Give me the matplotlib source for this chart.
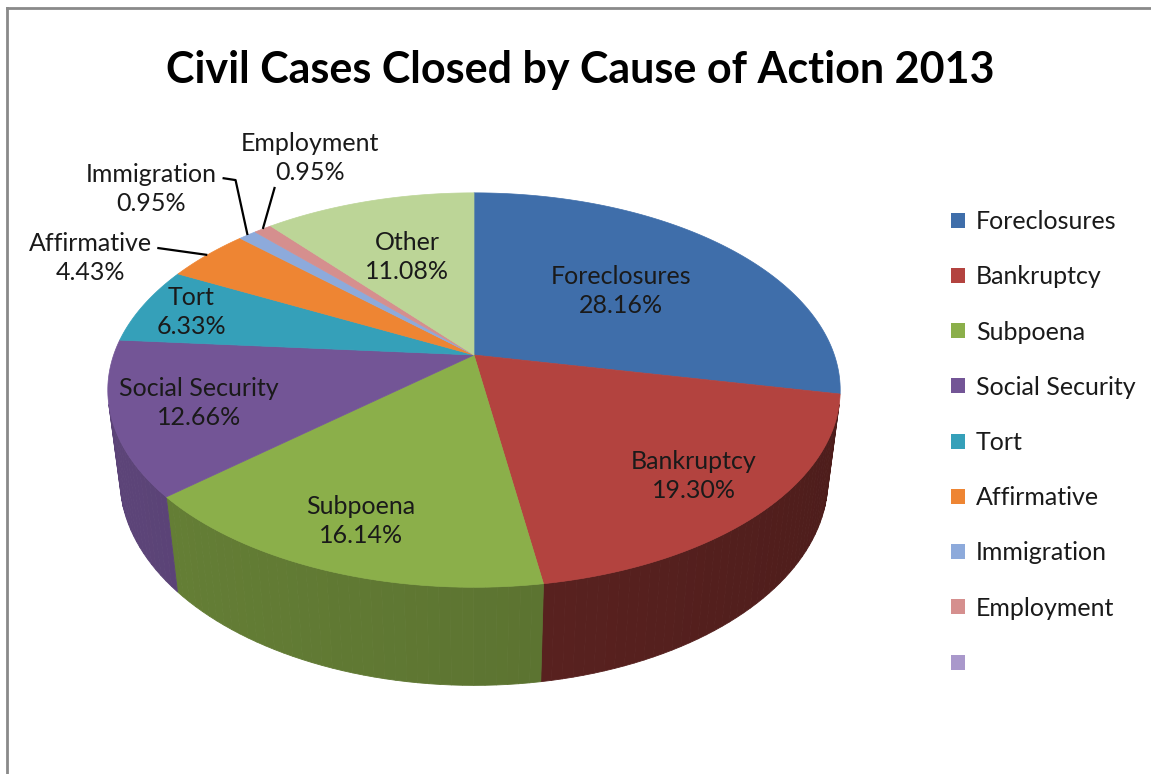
import numpy as np
import matplotlib.pyplot as plt
from matplotlib.patches import Polygon, Patch

plt.rcParams['font.family'] = ['Lato', 'DejaVu Sans']

### Data ###
categories = ['Foreclosures', 'Bankruptcy', 'Subpoena', 'Social Security', 'Tort',
              'Affirmative', 'Immigration', 'Employment', 'Other']
shares = [28.16, 19.30, 16.14, 12.66, 6.33, 4.43, 0.95, 0.95, 11.08]
legend_labels = ['Foreclosures', 'Bankruptcy', 'Subpoena', 'Social Security', 'Tort',
                 'Affirmative', 'Immigration', 'Employment', '']
title = 'Civil Cases Closed by Cause of Action 2013'

### Styles / layout ###
colors = ['#3F6EAA', '#B3433F', '#8BAF4A', '#735596', '#35A0B9',
          '#EE8533', '#8DAADB', '#D58F8E', '#BCD597']
legend_colors = colors[:8] + ['#A998CB']

# perspective setup of the pie (pixel space)
CX, CY = 474, 355
FOCAL = 1719
DIST = 4.77
ELEV = np.radians(32)
DEPTH = 0.30
LIGHT = np.radians(-170)

# radius (fraction of pie radius) used for the inside labels
label_r = {'Foreclosures': 0.56, 'Bankruptcy': 0.79, 'Subpoena': 0.8,
           'Social Security': 0.77, 'Tort': 0.85, 'Other': 0.6}
# outside labels: label offset and leader elbow offsets from the rim point (pixels)
outside = {
  'Affirmative': ((-117, 3), [(-50, -7)]),
  'Immigration': ((-96, -46), [(-12, -55), (-25, -57)]),
  'Employment': ((47, -71), [(12, -42)]),
}

FS_LABEL = 18


def project(theta, r=1.0, z=0.0):
  """theta in radians (math convention), returns pixel coords."""
  x = r * np.cos(theta)
  y = r * np.sin(theta)
  yc = y * np.sin(ELEV) + z * np.cos(ELEV)
  dep = DIST + y * np.cos(ELEV) - z * np.sin(ELEV)
  return CX + FOCAL * x / dep, CY - FOCAL * yc / dep


def shade(rgb, phi, phi_mid):
  # lighting from the left: per-slice base tone plus a soft gradient
  f = 0.58 + 0.23 * np.cos(phi_mid - LIGHT) + 0.07 * (np.cos(phi - LIGHT) - np.cos(phi_mid - LIGHT))
  return tuple(np.clip(np.array(rgb) * f, 0, 1))


fig = plt.figure(figsize=(11.51, 7.74), dpi=100)
ax = fig.add_axes([0, 0, 1, 1])
ax.set_xlim(0, 1151)
ax.set_ylim(774, 0)
ax.axis('off')

cum = np.cumsum(shares)
starts = 90 - 3.6 * (cum - np.array(shares))
ends = 90 - 3.6 * cum

# visible part of the side wall
sil = np.degrees(np.arcsin(1 / (DIST * np.cos(ELEV))))
vis_lo, vis_hi = -180 + sil, -sil

# side walls
for name, s, e, col in zip(categories, starts, ends, colors):
  lo, hi = max(e, vis_lo), min(s, vis_hi)
  if lo >= hi:
    continue
  rgb = plt.matplotlib.colors.to_rgb(col)
  mid = np.radians((lo + hi) / 2)
  th = np.radians(np.linspace(hi, lo, max(int((hi - lo) / 1.5), 2) + 1))
  for t0, t1 in zip(th[:-1], th[1:]):
    pts = [project(t0), project(t1), project(t1, z=-DEPTH), project(t0, z=-DEPTH)]
    c = shade(rgb, (t0 + t1) / 2, mid)
    ax.add_patch(Polygon(pts, closed=True, facecolor=c, edgecolor=c, lw=0.6))

# top faces
for name, s, e, col in zip(categories, starts, ends, colors):
  th = np.radians(np.linspace(s, e, max(int((s - e) / 1.0), 2) + 1))
  pts = [(CX, CY)] + [project(t) for t in th]
  ax.add_patch(Polygon(pts, closed=True, facecolor=col, edgecolor=col, lw=0.5))

# data labels
for name, share, s, e in zip(categories, shares, starts, ends):
  mid = np.radians((s + e) / 2)
  txt = f'{name}\n{share:.2f}%'
  if name in label_r:
    u, v = project(mid, r=label_r[name])
    ax.text(u, v, txt, ha='center', va='center', fontsize=FS_LABEL,
            color='#1a1a1a', linespacing=1.3)
  elif name in outside:
    u, v = project(mid)
    (dx, dy), elbows = outside[name]
    xs = [u] + [u + ex for ex, ey in elbows]
    ys = [v] + [v + ey for ex, ey in elbows]
    ax.plot(xs, ys, color='black', lw=1.6, solid_capstyle='butt')
    ax.text(u + dx, v + dy, txt, ha='center', va='center', fontsize=FS_LABEL,
            color='#1a1a1a', linespacing=1.3)

# title
ax.text(580, 70, title, ha='center', va='center', fontsize=31,
        fontweight='bold', color='black')

# legend
handles = [Patch(facecolor=c, edgecolor='none') for c in legend_colors]
ax.legend(handles, legend_labels, loc='upper left',
          bbox_to_anchor=(951 / 1151, 1 - 210 / 774), frameon=False,
          fontsize=FS_LABEL, handlelength=0.55, handleheight=0.55,
          handletextpad=0.45, labelspacing=1.29, borderpad=0, borderaxespad=0,
          labelcolor='#1a1a1a')

# chart frame
ax.plot([7, 7], [774, 8], color='#8a8a8a', lw=2)
ax.plot([7, 1151], [8, 8], color='#8a8a8a', lw=2)

fig.savefig('out.png', dpi=100)
